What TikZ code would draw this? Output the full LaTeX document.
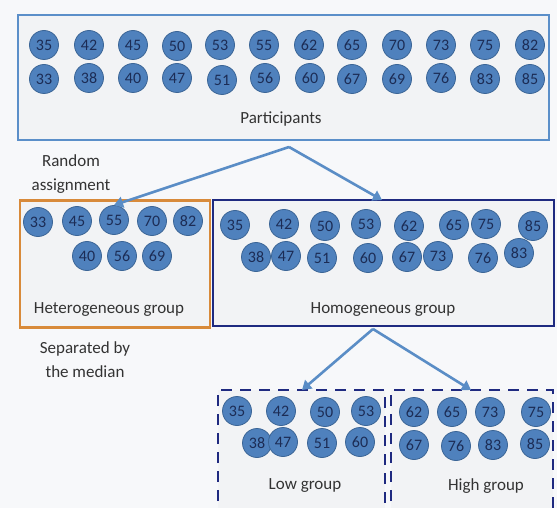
\documentclass[tikz,border=0pt]{standalone}
\usepackage{fontspec}
\setmainfont{Carlito}
\usetikzlibrary{arrows.meta}
\definecolor{ballfill}{HTML}{4F81BD}
\definecolor{balledge}{HTML}{3B6596}
\definecolor{topedge}{HTML}{5B8FC9}
\definecolor{hetedge}{HTML}{D88A3A}
\definecolor{navy}{HTML}{1F2A80}
\definecolor{arrowc}{HTML}{5A8DC6}
\definecolor{bgc}{HTML}{F7F8FA}
\definecolor{boxfill}{HTML}{F2F3F5}
\definecolor{txt}{HTML}{333333}
\definecolor{balltxt}{HTML}{1C2C55}
\tikzset{
  ball/.style={circle, fill=ballfill, draw=balledge, line width=0.8pt, minimum size=29pt, inner sep=0pt, font=\fontsize{16}{16}\selectfont, text=balltxt},
  lbl/.style={font=\fontsize{17}{24}\selectfont, text=txt},
  grouparrow/.style={draw=arrowc, line width=2.6pt, -{Triangle[width=11pt,length=9pt]}},
}
\begin{document}
\begin{tikzpicture}[x=1pt,y=-1pt]
\useasboundingbox (0,0) rectangle (557,508);
\fill[bgc] (0,0) rectangle (557,508);
\clip (0,0) rectangle (557,508);
% boxes
\draw[topedge, line width=2pt, fill=boxfill] (18,15) rectangle (549,140);
\node[lbl] (participants) at (281,119) {Participants};
\coordinate (split1) at (289,147);
\node[draw=hetedge, line width=2.5pt, fill=boxfill, minimum width=190pt, minimum height=127pt, inner sep=0pt] (het) at (115,264) {};
\node[draw=navy, line width=2pt, fill=boxfill, minimum width=341pt, minimum height=126pt, inner sep=0pt] (hom) at (383.5,263) {};
\node[lbl] (hetlbl) at (109,310) {Heterogeneous group};
\node[lbl] (homlbl) at (383,310) {Homogeneous group};
\node[lbl, align=center] (random) at (71,174) {Random\\assignment};
\node[lbl, align=center] (sep) at (85,360) {Separated by\\the median};
\coordinate (homtop) at (382,200);
% low/high boxes (bottom cut off)
\draw[navy, line width=2.6pt, dash pattern=on 11pt off 8pt, fill=boxfill] (218,520) -- (218,390) -- (385,390) -- (385,520);
\draw[navy, line width=2.6pt, dash pattern=on 11pt off 8pt, fill=boxfill] (391,520) -- (391,390) -- (553,390) -- (553,520);
\node[lbl] (lowlbl) at (305,486) {Low group};
\node[lbl] (highlbl) at (486,486) {High group};
\coordinate (lowtop) at (302,390);
\coordinate (hightop) at (471,390);
\coordinate (split2) at (373,329);
% participants balls
\foreach \n/\x/\y in {35/44/45,42/89/45,45/133/45,50/177/46,53/220/45,55/264/45,62/309/45,65/352/45,70/397/45,73/441/45,75/485/45,82/530/45,
33/44/79,38/89/78,40/133/78,47/177/78,51/222/80,56/265/78,60/310/78,67/352/79,69/397/79,76/441/78,83/485/79,85/530/79}
  \node[ball] (p\n) at (\x,\y) {\n};
% heterogeneous balls
\foreach \n/\x/\y in {33/38/222,45/77/221,55/114/220,70/152/221,82/188/221,40/87/256,56/122/256,69/157/256}
  \node[ball] (he\n) at (\x,\y) {\n};
% homogeneous balls
\foreach \n/\x/\y in {35/235/225,42/284/224,50/325/226,53/366/224,62/409/226,65/454/225,75/486/224,85/533/226,
38/256/257,47/286/256,51/322/258,60/368/258,67/407/257,73/438/256,76/483/258,83/519/253}
  \node[ball] (ho\n) at (\x,\y) {\n};
% low group balls
\foreach \n/\x/\y in {35/237/411,42/281/411,50/325/412,53/366/411,38/257/443,47/283/442,51/322/443,60/360/442}
  \node[ball] (lo\n) at (\x,\y) {\n};
% high group balls
\foreach \n/\x/\y in {62/414/412,65/452/412,73/490/412,75/536/412,67/414/445,76/456/446,83/493/445,85/535/444}
  \node[ball] (hi\n) at (\x,\y) {\n};
% arrows
\draw[grouparrow] (split1) -- (he55.north);
\draw[grouparrow] (split1) -- (homtop);
\draw[grouparrow] (split2) -- (lowtop);
\draw[grouparrow] (split2) -- (hightop);
\end{tikzpicture}
\end{document}
